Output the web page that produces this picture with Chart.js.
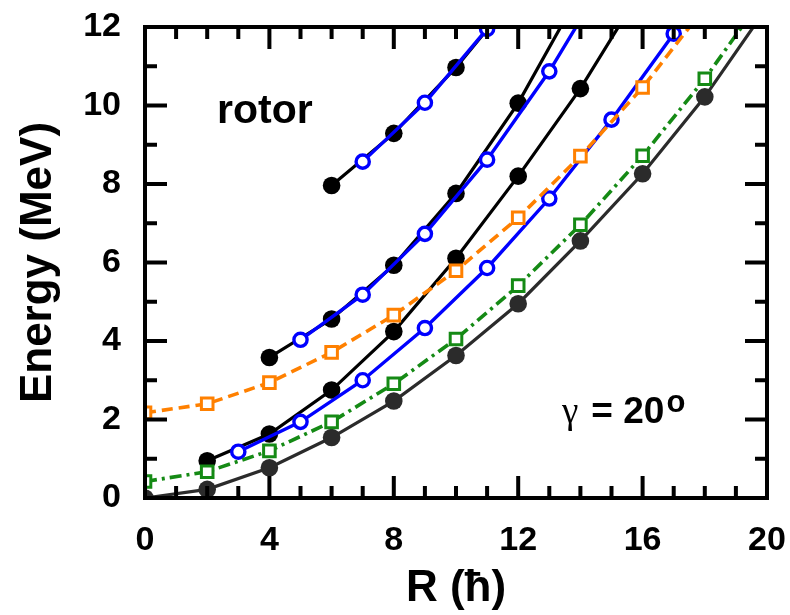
<!DOCTYPE html>
<html><head><meta charset="utf-8">
<script src="https://cdn.jsdelivr.net/npm/chart.js@4/dist/chart.umd.min.js"></script>
<style>html,body{margin:0;padding:0;background:#fff;overflow:hidden}</style>
</head><body>
<canvas id="c" width="790" height="615"></canvas>
<script>
// ---- data ----
const xTickLabels = [0, 4, 8, 12, 16, 20];
const yTickLabels = [0, 2, 4, 6, 8, 10, 12];

const yrastR = [0, 2, 4, 6, 8, 10, 12, 14, 16, 18, 20];
const yrastE = [0, 0.22, 0.77, 1.54, 2.47, 3.63, 4.95, 6.55, 8.26, 10.22, 12.5];

const greenR = [0, 2, 4, 6, 8, 10, 12, 14, 16, 18, 20];
const greenE = [0.42, 0.67, 1.2, 1.94, 2.91, 4.05, 5.41, 6.96, 8.72, 10.68, 12.9];

const orangeR = [0, 2, 4, 6, 8, 10, 12, 14, 16, 18];
const orangeE = [2.17, 2.4, 2.94, 3.71, 4.66, 5.79, 7.14, 8.71, 10.46, 12.5];

const blue1R = [3, 5, 7, 9, 11, 13, 15, 17, 19];
const blue1E = [1.18, 1.94, 3.0, 4.33, 5.86, 7.63, 9.64, 11.83, 14.2];

const black1R = [2, 4, 6, 8, 10, 12, 14, 16];
const black1E = [0.95, 1.63, 2.75, 4.24, 6.11, 8.2, 10.43, 13.0];

const black2R = [4, 6, 8, 10, 12, 14];
const black2E = [3.58, 4.56, 5.93, 7.76, 10.06, 12.9];

const blue2R = [5, 7, 9, 11, 13, 15];
const blue2E = [4.03, 5.18, 6.73, 8.62, 10.87, 13.5];

const black3R = [6, 8, 10, 12];
const black3E = [7.96, 9.29, 10.97, 12.9];

const blue3R = [7, 9, 11, 13];
const blue3E = [8.57, 10.07, 11.95, 14.0];

// ---- helpers ----
const pts = (xs, ys) => xs.map((x, i) => ({x: x, y: ys[i]}));
const FONT = "'Liberation Sans', Arial, Helvetica, sans-serif";

function filled(xs, ys, color, order) {
  return {data: pts(xs, ys), showLine: true, borderColor: color, borderWidth: 3.2,
    pointStyle: 'circle', pointRadius: 8.8, pointBackgroundColor: color, pointBorderColor: color,
    pointBorderWidth: 0, order: order, clip: 0};
}
function openCircle(xs, ys, color, order) {
  return {data: pts(xs, ys), showLine: true, borderColor: color, borderWidth: 3.4,
    pointStyle: 'circle', pointRadius: 6.6, pointBackgroundColor: '#fff', pointBorderColor: color,
    pointBorderWidth: 3.4, order: order, clip: 0};
}
function openSquare(xs, ys, color, dash, order) {
  return {data: pts(xs, ys), showLine: true, borderColor: color, borderWidth: 3.6, borderDash: dash,
    pointStyle: 'rect', pointRadius: 8.2, pointBackgroundColor: '#fff', pointBorderColor: color,
    pointBorderWidth: 3, order: order, clip: 0};
}

const datasets = [
  openSquare(orangeR, orangeE, '#ff8000', [11, 6], 0),
  openSquare(greenR, greenE, '#158a15', [12, 5, 3, 5], 1),
  openCircle(blue1R, blue1E, '#0000ff', 2),
  openCircle(blue2R, blue2E, '#0000ff', 3),
  openCircle(blue3R, blue3E, '#0000ff', 4),
  filled(black1R, black1E, '#000000', 5),
  filled(black2R, black2E, '#000000', 6),
  filled(black3R, black3E, '#000000', 7),
  filled(yrastR, yrastE, '#2b2b2b', 8)
];

// frame, inward ticks and annotations
const framePlugin = {
  id: 'frame',
  afterDatasetsDraw(chart) {
    const {ctx, chartArea: a, scales: {x, y}} = chart;
    ctx.save();
    ctx.strokeStyle = '#000';
    ctx.lineWidth = 4;
    ctx.lineCap = 'butt';
    ctx.beginPath();
    for (let v = x.min; v <= x.max + 1e-9; v += 1) {
      const px = x.getPixelForValue(v);
      const len = (v % 4 === 0) ? 22 : 12;
      ctx.moveTo(px, a.bottom); ctx.lineTo(px, a.bottom - len);
      ctx.moveTo(px, a.top); ctx.lineTo(px, a.top + len);
    }
    for (let v = y.min; v <= y.max + 1e-9; v += 1) {
      const py = y.getPixelForValue(v);
      const len = (v % 2 === 0) ? 22 : 12;
      ctx.moveTo(a.left, py); ctx.lineTo(a.left + len, py);
      ctx.moveTo(a.right, py); ctx.lineTo(a.right - len, py);
    }
    ctx.stroke();
    ctx.strokeRect(a.left, a.top, a.right - a.left, a.bottom - a.top);

    // annotations
    ctx.fillStyle = '#000';
    ctx.textBaseline = 'alphabetic';
    ctx.textAlign = 'left';
    ctx.font = 'bold 41px ' + FONT;
    ctx.fillText('rotor', a.left + 72, a.top + 96);

    let tx = a.left + 417, ty = a.top + 396;
    ctx.font = "37px 'Liberation Serif', 'Times New Roman', serif";
    ctx.fillText('\u03B3', tx, ty);
    tx += ctx.measureText('\u03B3').width + 13;
    ctx.font = 'bold 37px ' + FONT;
    ctx.fillText('= 20', tx, ty);
    tx += ctx.measureText('= 20').width + 2;
    ctx.font = 'bold 31px ' + FONT;
    ctx.fillText('o', tx, ty - 11);
    ctx.restore();
  }
};

function zeroPad(s) { s.paddingLeft = 0; s.paddingRight = 0; s.paddingTop = 0; s.paddingBottom = 0; }

new Chart(document.getElementById('c'), {
  type: 'scatter',
  data: {datasets: datasets},
  options: {
    responsive: false,
    animation: false,
    devicePixelRatio: 1,
    layout: {padding: {top: 27, right: 23, left: 0, bottom: 0}},
    plugins: {legend: {display: false}, tooltip: {enabled: false}},
    scales: {
      x: {
        type: 'linear', min: 0, max: 20,
        grid: {display: false, drawTicks: false},
        border: {display: false},
        ticks: {stepSize: 4, padding: 22, color: '#000', font: {family: FONT, size: 34, weight: 'bold'},
          callback: v => xTickLabels.includes(v) ? String(v) : ''},
        title: {display: true, text: 'R (\u0127)', color: '#000',
          font: {family: FONT, size: 44, weight: 'bold'}, padding: {top: 0, bottom: 0}},
        afterFit: s => { s.height = 117; zeroPad(s); }
      },
      y: {
        type: 'linear', min: 0, max: 12,
        grid: {display: false, drawTicks: false},
        border: {display: false},
        ticks: {stepSize: 2, padding: 24, color: '#000', font: {family: FONT, size: 34, weight: 'bold'},
          callback: v => yTickLabels.includes(v) ? String(v) : ''},
        title: {display: true, text: 'Energy (MeV)', color: '#000',
          font: {family: FONT, size: 44, weight: 'bold'}, padding: {top: 12, bottom: 0}},
        afterFit: s => { s.width = 145; zeroPad(s); }
      }
    }
  },
  plugins: [framePlugin]
});
</script>
</body></html>
